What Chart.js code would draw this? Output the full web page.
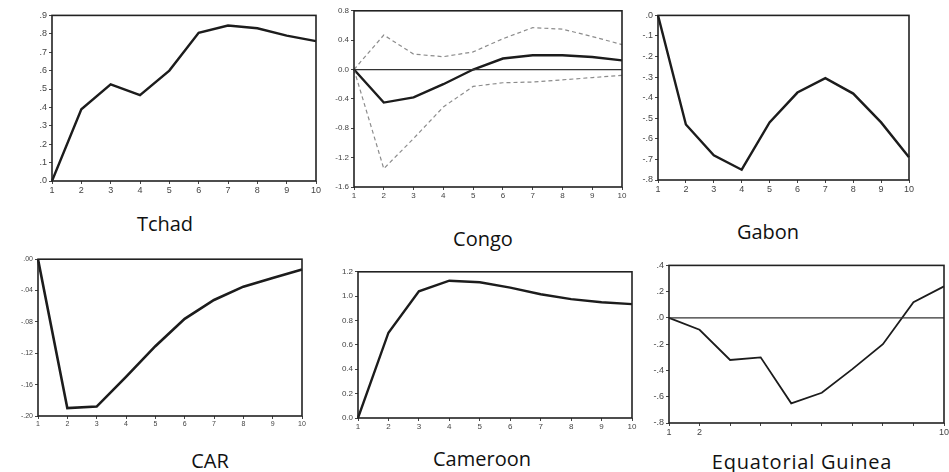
<!DOCTYPE html>
<html>
<head>
<meta charset="utf-8">
<script src="https://cdn.jsdelivr.net/npm/chart.js@4.4.1/dist/chart.umd.min.js"></script>
<style>
  body { margin: 0; background: #fff; width: 949px; height: 472px; position: relative; overflow: hidden; }
  canvas { position: absolute; }
  .title { position: absolute; font-family: "Open Sans", Lato, sans-serif; font-size: 20px; color: #111;
           transform: translate(-50%, -50%); white-space: nowrap; }
</style>
</head>
<body>
<div class="title" style="left:165px;top:223px">Tchad</div>
<div class="title" style="left:483px;top:238px">Congo</div>
<div class="title" style="left:768px;top:231px">Gabon</div>
<div class="title" style="left:210px;top:460px">CAR</div>
<div class="title" style="left:482px;top:458px">Cameroon</div>
<div class="title" style="left:802px;top:461px;letter-spacing:0.8px">Equatorial Guinea</div>
<script>
// impulse responses, periods 1..10
const periods = ['1', '2', '3', '4', '5', '6', '7', '8', '9', '10'];
const eqGuineaXLabels = ['1', '2', '', '', '', '', '', '', '', '10'];

const tchad = [0, 0.39, 0.525, 0.467, 0.6, 0.805, 0.845, 0.83, 0.79, 0.76];
const congo = [0, -0.45, -0.38, -0.2, 0, 0.15, 0.195, 0.195, 0.17, 0.125];
const congoUpper = [0, 0.47, 0.21, 0.175, 0.24, 0.42, 0.57, 0.55, 0.45, 0.34];
const congoLower = [0, -1.35, -0.94, -0.51, -0.23, -0.18, -0.17, -0.14, -0.11, -0.08];
const gabon = [0, -0.53, -0.68, -0.75, -0.52, -0.375, -0.305, -0.38, -0.52, -0.69];
const car = [0, -0.19, -0.188, -0.15, -0.111, -0.076, -0.052, -0.035, -0.024, -0.013];
const cameroon = [0, 0.70, 1.04, 1.127, 1.114, 1.07, 1.016, 0.976, 0.95, 0.935];
const eqGuinea = [0, -0.09, -0.32, -0.30, -0.65, -0.57, -0.39, -0.20, 0.12, 0.24];

// y tick labels, bottom to top
const tchadTicks = ['.0', '.1', '.2', '.3', '.4', '.5', '.6', '.7', '.8', '.9'];
const congoTicks = ['-1.6', '-1.2', '-0.8', '-0.4', '0.0', '0.4', '0.8'];
const gabonTicks = ['-.8', '-.7', '-.6', '-.5', '-.4', '-.3', '-.2', '-.1', '.0'];
const carTicks = ['-.20', '-.16', '-.12', '-.08', '-.04', '.00'];
const cameroonTicks = ['0.0', '0.2', '0.4', '0.6', '0.8', '1.0', '1.2'];
const eqGuineaTicks = ['-.8', '-.6', '-.4', '-.2', '.0', '.2', '.4'];

const AXIS_W = 40, AXIS_H = 18, PAD_T = 6, PAD_R = 8;

// frame round the plot, plus optional zero line
const framePlugin = {
	id: 'frame',
	afterDatasetsDraw(chart, args, opts) {
		const { ctx, chartArea: a } = chart;
		ctx.save();
		if (opts.zeroLine) {
			const y = chart.scales.y.getPixelForValue(0);
			ctx.strokeStyle = '#333';
			ctx.lineWidth = 1.2;
			ctx.beginPath();
			ctx.moveTo(a.left, y);
			ctx.lineTo(a.right, y);
			ctx.stroke();
		}
		ctx.strokeStyle = '#222';
		ctx.lineWidth = 1.6;
		ctx.strokeRect(a.left, a.top, a.right - a.left, a.bottom - a.top);
		ctx.restore();
	}
};

function mainLine(data, width) {
	return { data, borderColor: '#1c1c1c', borderWidth: width || 2.4, pointRadius: 0, tension: 0 };
}
function bandLine(data) {
	return { data, borderColor: '#8c8c8c', borderWidth: 1.2, borderDash: [4, 3], pointRadius: 0, tension: 0 };
}

function makePanel(box, datasets, min, max, step, yTicks, xTicks, fontSize, zeroLine) {
	const c = document.createElement('canvas');
	const w = (box.r - box.l) + AXIS_W + PAD_R;
	const h = (box.b - box.t) + PAD_T + AXIS_H;
	c.width = w; c.height = h;
	c.style.left = (box.l - AXIS_W) + 'px';
	c.style.top = (box.t - PAD_T) + 'px';
	c.style.width = w + 'px'; c.style.height = h + 'px';
	document.body.appendChild(c);
	const font = { family: '"Liberation Sans", Arial, sans-serif', size: fontSize };
	const grid = { display: true, drawOnChartArea: false, drawTicks: true, tickLength: 3, color: '#444' };
	new Chart(c, {
		type: 'line',
		data: { labels: periods, datasets },
		options: {
			responsive: false,
			animation: false,
			layout: { padding: { top: PAD_T, right: PAD_R, left: 0, bottom: 0 } },
			plugins: { legend: { display: false }, tooltip: { enabled: false }, frame: { zeroLine } },
			scales: {
				x: {
					grid, border: { display: false },
					ticks: { font, color: '#444', padding: 1, maxRotation: 0, autoSkip: false, callback: (v, i) => xTicks[i] },
					afterFit: s => { s.height = AXIS_H; }
				},
				y: {
					min, max, grid, border: { display: false },
					ticks: { stepSize: step, font, color: '#444', padding: 2, callback: (v, i) => yTicks[i] },
					afterFit: s => { s.width = AXIS_W; }
				}
			}
		},
		plugins: [framePlugin]
	});
}

makePanel({ l: 52, t: 14, r: 316, b: 181 }, [mainLine(tchad)], 0, 0.9, 0.1, tchadTicks, periods, 9, false);
makePanel({ l: 354, t: 10, r: 622, b: 187 }, [bandLine(congoUpper), bandLine(congoLower), mainLine(congo)],
	-1.6, 0.8, 0.4, congoTicks, periods, 8, true);
makePanel({ l: 658, t: 14, r: 909, b: 180 }, [mainLine(gabon)], -0.8, 0, 0.1, gabonTicks, periods, 9, false);
makePanel({ l: 38, t: 259, r: 302, b: 416 }, [mainLine(car, 2.6)], -0.2, 0, 0.04, carTicks, periods, 7, false);
makePanel({ l: 358, t: 271, r: 632, b: 418 }, [mainLine(cameroon)], 0, 1.2, 0.2, cameroonTicks, periods, 8, false);
makePanel({ l: 669, t: 264, r: 944, b: 423 }, [mainLine(eqGuinea, 1.8)], -0.8, 0.4, 0.2, eqGuineaTicks, eqGuineaXLabels, 9, true);
</script>
</body>
</html>
